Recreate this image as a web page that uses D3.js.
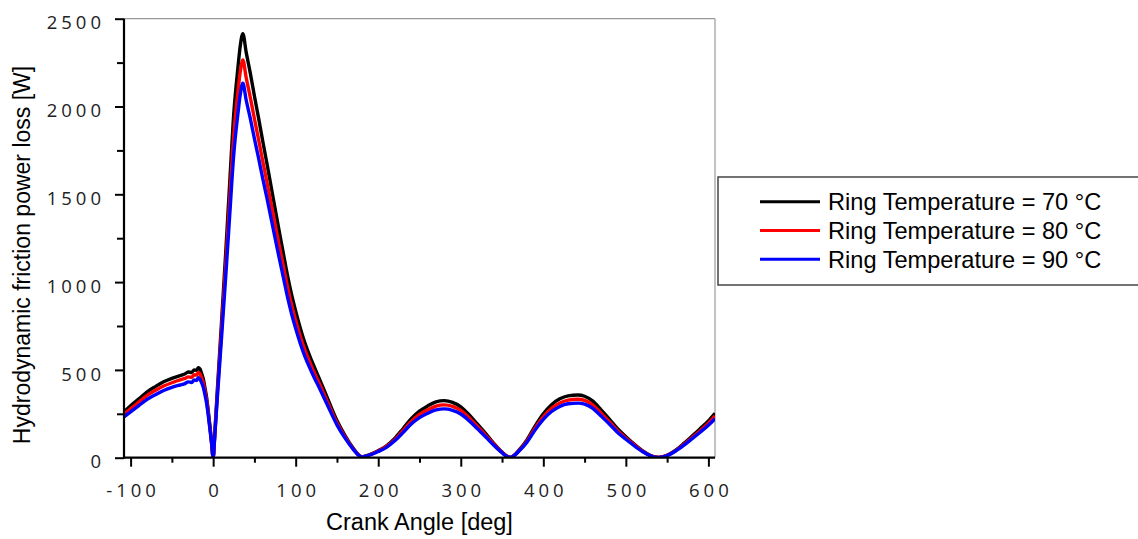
<!DOCTYPE html>
<html><head><meta charset="utf-8">
<script src="https://cdn.jsdelivr.net/npm/d3@7/dist/d3.min.js"></script>
<style>body{margin:0;background:#fff;overflow:hidden}</style>
</head><body>
<svg id="chart" width="1138" height="539"></svg>
<script>
// ---------- data ----------
const crankAngle = [-108,-100,-90,-80,-70,-60,-50,-40,-35,-30,-26,-23,-20,-18,-16,-14,-12,-10,-8,-6,-4,-2,0,
  2,5,10,15,20,25,30,33,36,40,45,50,55,60,65,70,75,80,85,90,95,100,110,120,130,140,150,160,170,175,180,
  185,190,200,210,220,230,240,250,260,270,280,290,300,310,320,330,340,350,355,360,
  365,370,380,390,400,410,420,430,442,450,460,470,480,490,500,510,520,530,535,540,
  545,550,560,570,580,590,600,608];
const loss70 = [262,295,335,375,405,432,452,468,475,488,485,500,498,512,505,480,450,400,345,270,185,95,0,
  140,380,760,1150,1560,1960,2220,2350,2415,2310,2190,2060,1935,1805,1680,1550,1420,1290,1165,1040,930,835,670,545,435,322,212,125,52,22,5,
  10,18,40,68,110,165,222,265,295,318,325,315,290,245,192,138,82,32,12,2,
  15,40,100,180,250,302,335,352,357,350,322,272,220,165,120,78,40,12,4,2,
  6,14,42,80,122,165,210,253];
const loss80 = [248,279,317,355,383,408,427,443,450,460,458,472,470,485,478,455,428,382,330,258,177,90,0,
  132,357,714,1080,1462,1838,2082,2203,2265,2165,2052,1930,1813,1691,1574,1452,1331,1209,1092,975,871,782,628,511,408,302,199,117,49,21,5,
  9,17,38,64,103,154,207,246,273,294,301,292,269,228,179,129,77,30,11,2,
  14,37,93,168,233,281,312,328,333,326,300,253,205,154,112,73,37,11,4,2,
  6,13,39,75,114,154,196,238];
const loss90 = [232,261,297,332,359,383,401,414,420,432,428,443,440,455,447,428,402,360,312,245,168,86,0,
  124,336,672,1015,1376,1729,1958,2073,2132,2037,1932,1817,1707,1592,1482,1367,1252,1138,1028,917,820,736,591,481,384,284,187,110,46,19,4,
  9,16,35,59,96,143,192,228,253,272,278,270,249,211,166,119,71,28,10,2,
  13,35,87,157,218,263,292,307,311,305,281,237,192,144,105,68,35,10,3,2,
  5,12,37,70,107,145,185,222];
const seriesNames = ["Ring Temperature = 70 \u00B0C","Ring Temperature = 80 \u00B0C","Ring Temperature = 90 \u00B0C"];
const seriesColors = ["#000000","#ff0000","#0000ff"];
const xMajorTicks = [-100,0,100,200,300,400,500,600];
const xMinorTicks = [-50,50,150,250,350,450,550];
const xTickLabels = ["-100","0","100","200","300","400","500","600"];
const yMajorTicks = [0,500,1000,1500,2000,2500];
const yMinorTicks = [250,750,1250,1750,2250];
const yTickLabels = ["0","500","1000","1500","2000","2500"];
const xTitle = "Crank Angle [deg]";
const yTitle = "Hydrodynamic friction power loss [W]";

// ---------- layout ----------
const svg = d3.select("#chart");
const plot = {left:124, right:715, top:18.7, bottom:457.7};
const x = d3.scaleLinear().domain([-108, 608]).range([plot.left, plot.right]);
const y = d3.scaleLinear().domain([0, 2500]).range([plot.bottom, plot.top]);
const tickFont = "'Open Sans', sans-serif";
const ls = 4;

// frame (top/right light)
svg.append("line").attr("x1",plot.left).attr("x2",plot.right).attr("y1",plot.top).attr("y2",plot.top)
  .attr("stroke","#9a9a9a").attr("stroke-width",1.2);
svg.append("line").attr("x1",plot.right).attr("x2",plot.right).attr("y1",plot.top).attr("y2",plot.bottom)
  .attr("stroke","#9a9a9a").attr("stroke-width",1.2);

// lines
const series = [loss70, loss80, loss90];
const line = d3.line().curve(d3.curveMonotoneX);
svg.append("clipPath").attr("id","clip").append("rect")
  .attr("x",plot.left).attr("y",plot.top-5).attr("width",plot.right-plot.left).attr("height",plot.bottom-plot.top+5);
series.forEach((vals,i)=>{
  const pts = crankAngle.map((a,j)=>[x(a), y(vals[j])]);
  svg.append("path").attr("d", line(pts)).attr("fill","none")
    .attr("stroke", seriesColors[i]).attr("stroke-width",3.4)
    .attr("stroke-linejoin","round").attr("clip-path","url(#clip)");
});

// axes
const xAxisMinor = d3.axisBottom(x).tickValues(xMinorTicks).tickSize(5).tickFormat("");
const xAxis = d3.axisBottom(x).tickValues(xMajorTicks).tickSize(9).tickPadding(13)
  .tickFormat((d,i)=>xTickLabels[i]);
const yAxisMinor = d3.axisLeft(y).tickValues(yMinorTicks).tickSize(7).tickFormat("");
const yAxis = d3.axisLeft(y).tickValues(yMajorTicks).tickSize(9).tickPadding(14)
  .tickFormat((d,i)=>yTickLabels[i]);

function styleAxis(g){
  g.select(".domain").remove();
  g.selectAll(".tick line").attr("stroke","#000").attr("stroke-width",2);
  g.selectAll("text").attr("font-family",tickFont).attr("font-size",18.5)
    .attr("fill","#222").style("letter-spacing", ls+"px");
}
svg.append("g").attr("transform",`translate(0,${plot.bottom})`).call(xAxisMinor).call(styleAxis);
const gx = svg.append("g").attr("transform",`translate(0,${plot.bottom})`).call(xAxis).call(styleAxis);
gx.selectAll("text").attr("dx", ls/2).attr("dy","0.95em");
svg.append("g").attr("transform",`translate(${plot.left},0)`).call(yAxisMinor).call(styleAxis);
const gy = svg.append("g").attr("transform",`translate(${plot.left},0)`).call(yAxis).call(styleAxis);
gy.selectAll("text").attr("dx", ls).attr("dy","0.55em");

// axis lines
svg.append("line").attr("x1",plot.left).attr("x2",plot.left).attr("y1",plot.top).attr("y2",plot.bottom+1)
  .attr("stroke","#000").attr("stroke-width",2.2);
svg.append("line").attr("x1",plot.left-1).attr("x2",plot.right).attr("y1",plot.bottom).attr("y2",plot.bottom)
  .attr("stroke","#000").attr("stroke-width",2.2);

// titles
svg.append("text").attr("x",(plot.left+plot.right)/2).attr("y",529.5).attr("text-anchor","middle")
  .attr("font-family","'Liberation Sans', Arial, sans-serif").attr("font-size",23.5).attr("fill","#000").text(xTitle);
svg.append("text").attr("transform","translate(30,255) rotate(-90)").attr("text-anchor","middle")
  .attr("font-family","'Liberation Sans', Arial, sans-serif").attr("font-size",23).attr("fill","#000").text(yTitle);

// legend
const lg = svg.append("g");
lg.append("rect").attr("x",718).attr("y",177).attr("width",430).attr("height",108)
  .attr("fill","#fff").attr("stroke","#444").attr("stroke-width",1.5);
const legY = [201.7, 230.5, 259.3];
seriesNames.forEach((name,i)=>{
  lg.append("line").attr("x1",760).attr("x2",820).attr("y1",legY[i]).attr("y2",legY[i])
    .attr("stroke",seriesColors[i]).attr("stroke-width",3);
  lg.append("text").attr("x",828).attr("y",legY[i]+8.2)
    .attr("font-family","'Liberation Sans', Arial, sans-serif").attr("font-size",23.6).attr("fill","#000").text(name);
});
</script>
</body></html>
